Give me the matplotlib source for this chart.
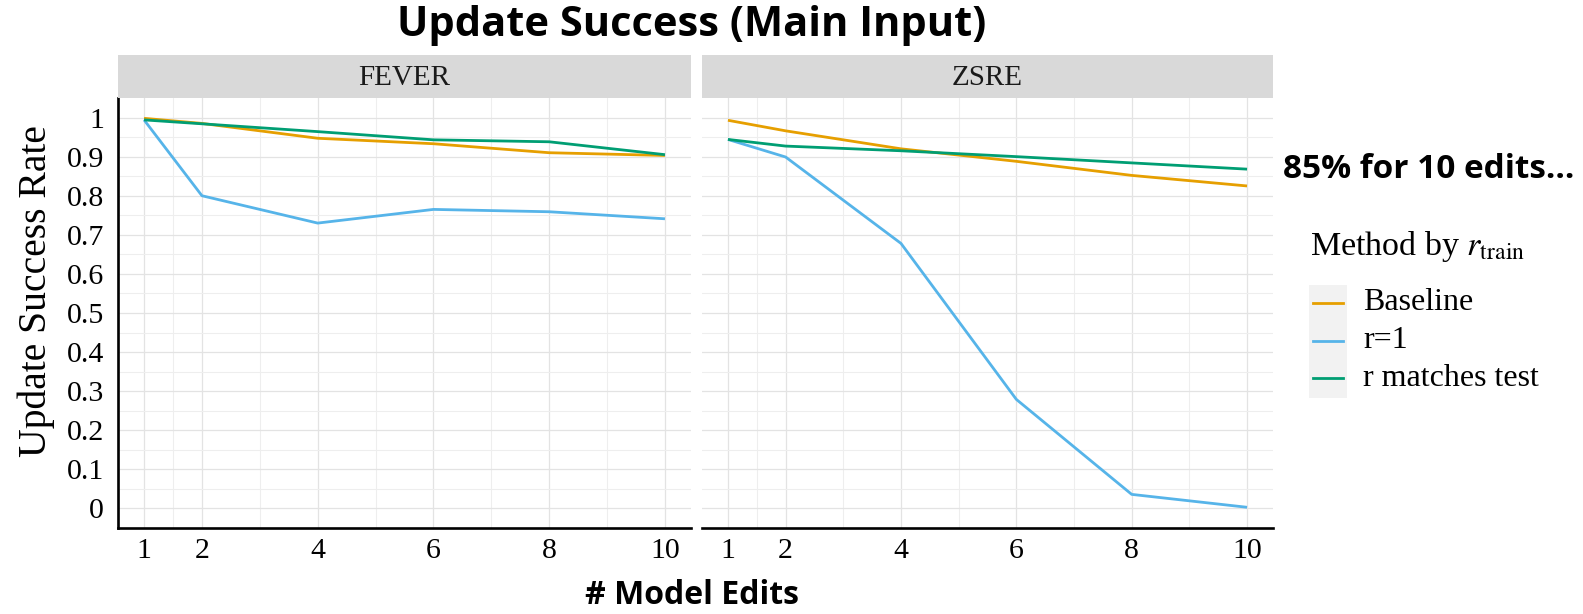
import matplotlib
matplotlib.use("Agg")
import matplotlib.pyplot as plt
from matplotlib.patches import Rectangle
from matplotlib.lines import Line2D

# ---- data ----
edits = [1, 2, 4, 6, 8, 10]
datasets = ["FEVER", "ZSRE"]
methods = ["Baseline", "r=1", "r matches test"]
colors = ["#E69F00", "#56B4E9", "#009E73"]

fever_baseline = [0.998, 0.985, 0.947, 0.933, 0.910, 0.903]
fever_r1 = [0.994, 0.800, 0.730, 0.765, 0.759, 0.741]
fever_match = [0.994, 0.984, 0.964, 0.943, 0.938, 0.905]

zsre_baseline = [0.993, 0.966, 0.920, 0.888, 0.852, 0.825]
zsre_r1 = [0.944, 0.899, 0.678, 0.279, 0.036, 0.003]
zsre_match = [0.944, 0.927, 0.915, 0.900, 0.884, 0.868]

series = {
    "FEVER": [fever_baseline, fever_r1, fever_match],
    "ZSRE": [zsre_baseline, zsre_r1, zsre_match],
}

y_ticks = [0, 0.1, 0.2, 0.3, 0.4, 0.5, 0.6, 0.7, 0.8, 0.9, 1]
y_ticklabels = ["0", "0.1", "0.2", "0.3", "0.4", "0.5", "0.6", "0.7", "0.8", "0.9", "1"]
x_minor = [1.5, 3, 5, 7, 9]

plt.rcParams["mathtext.fontset"] = "stix"
SERIF = "Liberation Serif"
SANS = "Open Sans"

W, H = 1583, 614
fig = plt.figure(figsize=(W / 100, H / 100), dpi=100)
fig.patch.set_facecolor("white")


def fx(px):
    return px / W


def fy(py):
    return 1 - py / H


panel_top, panel_bot = 98, 528
strip_top = 55
panels = [(118, 691), (702, 1273)]

axes = []
for i, (name, (x0, x1)) in enumerate(zip(datasets, panels)):
    ax = fig.add_axes([fx(x0), fy(panel_bot), fx(x1 - x0), (panel_bot - panel_top) / H])
    axes.append(ax)
    ax.set_xlim(0.55, 10.45)
    ax.set_ylim(-0.05, 1.05)
    ax.set_xticks(edits)
    ax.set_xticks(x_minor, minor=True)
    ax.set_yticks(y_ticks)
    ax.set_yticks([v + 0.05 for v in y_ticks[:-1]], minor=True)
    ax.grid(which="major", color="#E3E3E3", lw=0.9)
    ax.grid(which="minor", color="#EEEEEE", lw=0.8)
    ax.set_axisbelow(True)
    for s in ["top", "right"]:
        ax.spines[s].set_visible(False)
    ax.spines["bottom"].set_linewidth(1.9)
    ax.spines["bottom"].set_color("black")
    if i == 0:
        ax.spines["left"].set_linewidth(1.9)
        ax.spines["left"].set_color("black")
        ax.set_yticklabels(y_ticklabels, fontfamily=SERIF, fontsize=21.5)
    else:
        ax.spines["left"].set_visible(False)
        ax.set_yticklabels([])
    ax.tick_params(which="both", length=0)
    ax.tick_params(axis="y", pad=10)
    ax.tick_params(axis="x", pad=7)
    ax.set_xticklabels([str(e) for e in edits], fontfamily=SERIF, fontsize=21.5)

    for vals, c in zip(series[name], colors):
        ax.plot(edits, vals, color=c, lw=2.0, solid_capstyle="butt")

    # facet strip
    sax = fig.add_axes([fx(x0), fy(panel_top), fx(x1 - x0), (panel_top - strip_top) / H])
    sax.set_facecolor("#D9D9D9")
    sax.set_xticks([])
    sax.set_yticks([])
    for s in sax.spines.values():
        s.set_visible(False)
    sax.text(0.5, 0.47, name, ha="center", va="center", fontfamily=SERIF,
             fontsize=21, color="#1A1A1A", transform=sax.transAxes)

# y-axis title centred on the panel plus strip
fig.text(fx(36), fy(291), "Update Success Rate", rotation=90, ha="center", va="center",
         fontfamily=SERIF, fontsize=28.5)

fig.text(fx(692), fy(26), "Update Success (Main Input)", ha="center", va="center",
         fontfamily=SANS, fontweight="bold", fontsize=30)
fig.text(fx(692), fy(596), "# Model Edits", ha="center", va="center",
         fontfamily=SANS, fontweight="bold", fontsize=23)
fig.text(fx(1283), fy(170), "85% for 10 edits\u2026", ha="left", va="center",
         fontfamily=SANS, fontweight="bold", fontsize=24)

# legend
fig.text(fx(1310), fy(247), r"Method by $r_{\mathrm{train}}$", ha="left", va="center",
         fontfamily=SERIF, fontsize=24.5)
fig.add_artist(Rectangle((fx(1309), fy(398)), fx(38), (398 - 285) / H,
                         transform=fig.transFigure, facecolor="#F2F2F2", edgecolor="none"))
for k, (m, c) in enumerate(zip(methods, colors)):
    yk = 303 + k * 37.5
    fig.add_artist(Line2D([fx(1313), fx(1343)], [fy(yk), fy(yk)], color=c, lw=2.0,
                          transform=fig.transFigure))
    fig.text(fx(1363), fy(yk), m, ha="left", va="center", fontfamily=SERIF, fontsize=23)

fig.savefig("out.png", dpi=100)
